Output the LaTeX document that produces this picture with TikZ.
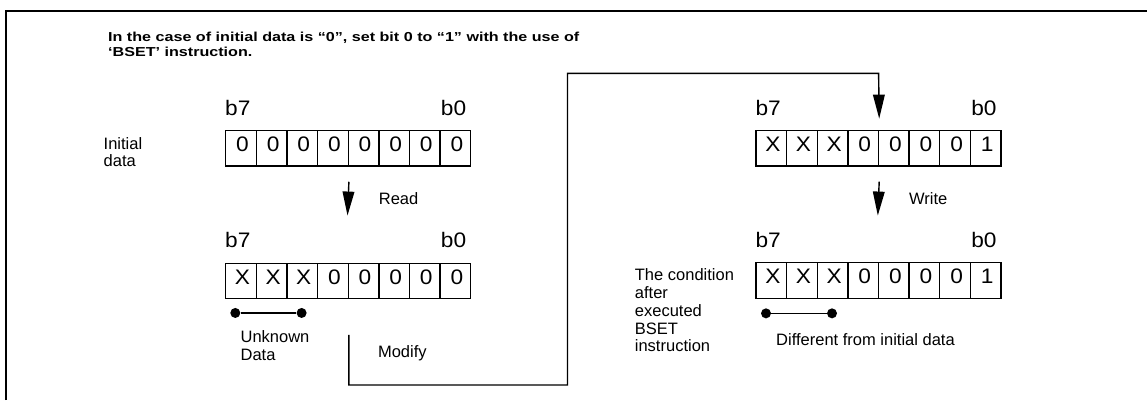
\documentclass[tikz,border=0pt]{standalone}
\usepackage{fontspec}
\setmainfont{Liberation Sans}
\newfontfamily\titlefont{Liberation Sans}[FakeStretch=1.24]
\newfontfamily\bitfont{Liberation Sans}[FakeStretch=1.08]
\usetikzlibrary{arrows.meta}
\begin{document}
\begin{tikzpicture}[x=1pt,y=-1pt,
  cell/.style={draw,line width=1.4pt,minimum width=30.625pt,minimum height=35.5pt,inner sep=0pt,
    text height=15pt,text depth=8.5pt,font=\bitfont\fontsize{21}{21}\selectfont},
  bit/.style={inner sep=0pt,font=\bitfont\fontsize{21}{21}\selectfont},
  lbl/.style={inner sep=0pt,align=left,font=\fontsize{16.5}{17.7}\selectfont},
  arr/.style={line width=1.4pt,-{Triangle[length=24pt,width=11.7pt]}},
  dot/.style={circle,fill,inner sep=0pt,minimum size=10pt}]

\useasboundingbox (0,0) rectangle (1147,400);
\draw[line width=2.3pt] (5.7,400) -- (5.7,10.8) -- (1147,10.8);

\node[anchor=base west,inner sep=0pt,align=left,font=\titlefont\bfseries\fontsize{13}{15}\selectfont] (title) at (108,56)
  {In the case of initial data is “0”, set bit 0 to “1” with the use of\\‘BSET’ instruction.};

\foreach \v [count=\i] in {0,0,0,0,0,0,0,0}
  \node[cell] (a\i) at ({225.7+30.625*(\i-0.5)},148.3) {\kern3pt\v};
\foreach \v [count=\i] in {X,X,X,0,0,0,0,0}
  \node[cell] (b\i) at ({225.7+30.625*(\i-0.5)},281) {\kern3pt\v};
\foreach \v [count=\i] in {X,X,X,0,0,0,0,1}
  \node[cell] (c\i) at ({756+30.625*(\i-0.5)},148.1) {\kern3pt\v};
\foreach \v [count=\i] in {X,X,X,0,0,0,0,1}
  \node[cell] (d\i) at ({756+30.625*(\i-0.5)},280.5) {\kern3pt\v};

\foreach \r in {a,b,c,d} {
  \node[bit,anchor=base west] (\r b7) at ([yshift=14.6pt]\r1.north west) {b7};
  \node[bit,anchor=base east] (\r b0) at ([xshift=-5pt,yshift=14.6pt]\r8.north east) {b0};
}

\node[lbl,anchor=base west] (init) at (103.5,166.8) {Initial\\data};
\node[lbl,anchor=base west] (read) at (378.7,204.3) {Read};
\node[lbl,anchor=base west] (write) at (909,204) {Write};
\node[lbl,anchor=base west] (unknown) at (240.4,360) {Unknown\\Data};
\node[lbl,anchor=base west] (modify) at (377.8,357.3) {Modify};
\node[lbl,anchor=base west] (cond) at (634.7,351.7) {The condition\\after\\executed\\BSET\\instruction};
\node[lbl,anchor=base west] (diff) at (776,345) {Different from initial data};

\coordinate (r1) at ([yshift=-15pt]a4.south east);
\coordinate (r2) at ([yshift=47pt]b5.north west);
\draw[arr] (r1) -- (r2);
\coordinate (w1) at ([yshift=-15pt]c4.south east);
\coordinate (w2) at ([yshift=46.5pt]d5.north west);
\draw[arr] (w1) -- (w2);

\coordinate (m1) at ([yshift=-35.5pt]b4.south east);
\coordinate (m3) at (567.5,385);
\coordinate (m5) at (878.6,73.3);
\coordinate (m6) at ([yshift=11pt]c4.north east);
\draw[arr] (m1) |- (m3) |- (m5) -- (m6);

\node[dot] (u1) at ([xshift=10.3pt,yshift=-13.5pt]b1.south west) {};
\node[dot] (u2) at ([xshift=76.6pt,yshift=-13.5pt]b1.south west) {};
\draw[line width=1.4pt] (u1) -- (u2);
\node[dot] (v1) at ([xshift=10.7pt,yshift=-14.4pt]d1.south west) {};
\node[dot] (v2) at ([xshift=76.7pt,yshift=-14.4pt]d1.south west) {};
\draw[line width=1.4pt] (v1) -- (v2);
\end{tikzpicture}
\end{document}
